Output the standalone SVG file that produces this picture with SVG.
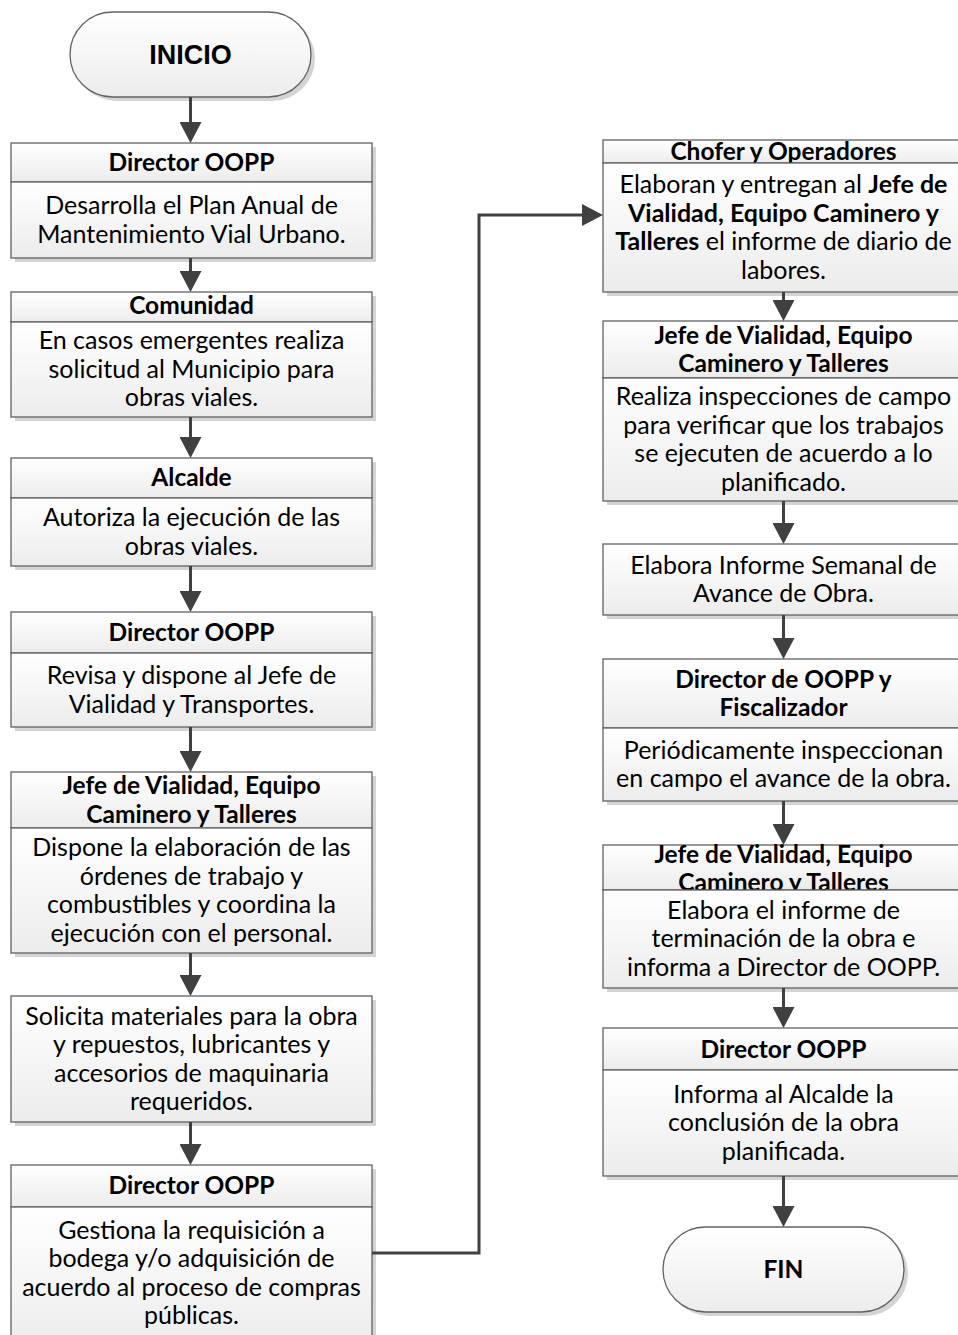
<svg xmlns="http://www.w3.org/2000/svg" width="958" height="1335" viewBox="0 0 958 1335">
  <style>
    .shadow { fill: #d4d4d4; }
    .box { fill: url(#boxfill); stroke: #626262; stroke-width: 1.3; }
    .term { fill: url(#boxfill); stroke: #626262; stroke-width: 1.3; }
    text { font-family: Lato, "Open Sans", "DejaVu Sans", sans-serif; font-size: 25px; fill: #000; text-anchor: middle; }
    .hdr { font-weight: bold; font-size: 24.5px; }
    .b { font-weight: bold; }
    .start { font-family: "Liberation Sans", Arial, sans-serif; font-weight: bold; font-size: 27px; }
    .conn { fill: none; stroke: #404040; stroke-width: 3; marker-end: url(#ah); }
  </style>
  <defs>
    <linearGradient id="boxfill" x1="0" y1="0" x2="0" y2="1">
      <stop offset="0" stop-color="#ffffff"/>
      <stop offset="1" stop-color="#ececec"/>
    </linearGradient>
    <marker id="ah" markerUnits="userSpaceOnUse" markerWidth="22" markerHeight="22" viewBox="0 -11 21 22" refX="0" refY="0" orient="auto">
      <path d="M0,-11 L21,0 L0,11 z" fill="#404040"/>
    </marker>
  </defs>

  <!-- start terminator -->
  <g id="inicio">
    <rect class="shadow" x="74" y="16" width="241" height="85" rx="42.5"/>
    <rect class="term" x="70" y="12" width="241" height="85" rx="42.5"/>
    <text class="start" x="190.5" y="64">INICIO</text>
  </g>

  <!-- left column -->
  <g id="n1">
    <rect class="shadow" x="15" y="147" width="361" height="115"/>
    <rect class="box" x="11" y="143" width="361" height="39"/>
    <text class="hdr" x="191.5" y="170.5">Director OOPP</text>
    <rect class="box" x="11" y="182" width="361" height="76"/>
    <text x="191.5" y="214">Desarrolla el Plan Anual de</text>
    <text x="191.5" y="242.5">Mantenimiento Vial Urbano.</text>
  </g>

  <g id="n2">
    <rect class="shadow" x="15" y="296" width="361" height="125"/>
    <rect class="box" x="11" y="292" width="361" height="30"/>
    <text class="hdr" x="191.5" y="314">Comunidad</text>
    <rect class="box" x="11" y="322" width="361" height="95"/>
    <text x="191.5" y="349">En casos emergentes realiza</text>
    <text x="191.5" y="377.5">solicitud al Municipio para</text>
    <text x="191.5" y="406">obras viales.</text>
  </g>

  <g id="n3">
    <rect class="shadow" x="15" y="462" width="361" height="108"/>
    <rect class="box" x="11" y="458" width="361" height="40"/>
    <text class="hdr" x="191.5" y="486">Alcalde</text>
    <rect class="box" x="11" y="498" width="361" height="68"/>
    <text x="191.5" y="526">Autoriza la ejecución de las</text>
    <text x="191.5" y="554.5">obras viales.</text>
  </g>

  <g id="n4">
    <rect class="shadow" x="15" y="616" width="361" height="115"/>
    <rect class="box" x="11" y="612" width="361" height="41"/>
    <text class="hdr" x="191.5" y="640.5">Director OOPP</text>
    <rect class="box" x="11" y="653" width="361" height="74"/>
    <text x="191.5" y="684">Revisa y dispone al Jefe de</text>
    <text x="191.5" y="712.5">Vialidad y Transportes.</text>
  </g>

  <g id="n5">
    <rect class="shadow" x="15" y="776" width="361" height="181"/>
    <rect class="box" x="11" y="772" width="361" height="56"/>
    <text class="hdr" x="191.5" y="794">Jefe de Vialidad, Equipo</text>
    <text class="hdr" x="191.5" y="822.5">Caminero y Talleres</text>
    <rect class="box" x="11" y="828" width="361" height="125"/>
    <text x="191.5" y="856">Dispone la elaboración de las</text>
    <text x="191.5" y="884.5">órdenes de trabajo y</text>
    <text x="191.5" y="913">combustibles y coordina la</text>
    <text x="191.5" y="941.5">ejecución con el personal.</text>
  </g>

  <g id="n6">
    <rect class="shadow" x="15" y="1000" width="361" height="126"/>
    <rect class="box" x="11" y="996" width="361" height="126"/>
    <text x="191.5" y="1024.5">Solicita materiales para la obra</text>
    <text x="191.5" y="1053">y repuestos, lubricantes y</text>
    <text x="191.5" y="1081.5">accesorios de maquinaria</text>
    <text x="191.5" y="1110">requeridos.</text>
  </g>

  <g id="n7">
    <rect class="shadow" x="15" y="1169" width="361" height="180"/>
    <rect class="box" x="11" y="1165" width="361" height="42"/>
    <text class="hdr" x="191.5" y="1194">Director OOPP</text>
    <rect class="box" x="11" y="1207" width="361" height="140"/>
    <text x="191.5" y="1238.5">Gestiona la requisición a</text>
    <text x="191.5" y="1267">bodega y/o adquisición de</text>
    <text x="191.5" y="1295.5">acuerdo al proceso de compras</text>
    <text x="191.5" y="1324">públicas.</text>
  </g>

  <!-- right column -->
  <g id="r1">
    <rect class="shadow" x="607" y="144" width="361" height="152"/>
    <rect class="box" x="603" y="140" width="361" height="23"/>
    <text class="hdr" x="783.5" y="159.5">Chofer y Operadores</text>
    <rect class="box" x="603" y="163" width="361" height="129"/>
    <text x="783.5" y="193">Elaboran y entregan al <tspan class="b">Jefe de</tspan></text>
    <text x="783.5" y="221.5" class="b">Vialidad, Equipo Caminero y</text>
    <text x="783.5" y="250"><tspan class="b">Talleres</tspan> el informe de diario de</text>
    <text x="783.5" y="278.5">labores.</text>
  </g>

  <g id="r2">
    <rect class="shadow" x="607" y="325" width="361" height="180"/>
    <rect class="box" x="603" y="321" width="361" height="57"/>
    <text class="hdr" x="783.5" y="343.5">Jefe de Vialidad, Equipo</text>
    <text class="hdr" x="783.5" y="372">Caminero y Talleres</text>
    <rect class="box" x="603" y="378" width="361" height="123"/>
    <text x="783.5" y="405">Realiza inspecciones de campo</text>
    <text x="783.5" y="433.5">para verificar que los trabajos</text>
    <text x="783.5" y="462">se ejecuten de acuerdo a lo</text>
    <text x="783.5" y="490.5">planificado.</text>
  </g>

  <g id="r3">
    <rect class="shadow" x="607" y="548" width="361" height="71"/>
    <rect class="box" x="603" y="544" width="361" height="71"/>
    <text x="783.5" y="573.5">Elabora Informe Semanal de</text>
    <text x="783.5" y="602">Avance de Obra.</text>
  </g>

  <g id="r4">
    <rect class="shadow" x="607" y="663" width="361" height="142"/>
    <rect class="box" x="603" y="659" width="361" height="69"/>
    <text class="hdr" x="783.5" y="687.5">Director de OOPP y</text>
    <text class="hdr" x="783.5" y="716">Fiscalizador</text>
    <rect class="box" x="603" y="728" width="361" height="73"/>
    <text x="783.5" y="758.5">Periódicamente inspeccionan</text>
    <text x="783.5" y="787">en campo el avance de la obra.</text>
  </g>

  <g id="r5">
    <rect class="shadow" x="607" y="849" width="361" height="143"/>
    <rect class="box" x="603" y="845" width="361" height="45"/>
    <text class="hdr" x="783.5" y="862.5">Jefe de Vialidad, Equipo</text>
    <text class="hdr" x="783.5" y="891">Caminero y Talleres</text>
    <rect class="box" x="603" y="890" width="361" height="98"/>
    <text x="783.5" y="918.5">Elabora el informe de</text>
    <text x="783.5" y="947">terminación de la obra e</text>
    <text x="783.5" y="975.5">informa a Director de OOPP.</text>
  </g>

  <g id="r6">
    <rect class="shadow" x="607" y="1032" width="361" height="148"/>
    <rect class="box" x="603" y="1028" width="361" height="42"/>
    <text class="hdr" x="783.5" y="1058">Director OOPP</text>
    <rect class="box" x="603" y="1070" width="361" height="106"/>
    <text x="783.5" y="1102.5">Informa al Alcalde la</text>
    <text x="783.5" y="1131">conclusión de la obra</text>
    <text x="783.5" y="1159.5">planificada.</text>
  </g>

  <!-- end terminator -->
  <g id="fin">
    <rect class="shadow" x="667" y="1231" width="241" height="85" rx="42.5"/>
    <rect class="term" x="663" y="1227" width="241" height="85" rx="42.5"/>
    <text class="hdr" x="783.5" y="1278">FIN</text>
  </g>

  <!-- connectors -->
  <g id="connectors">
    <path class="conn" d="M190.5,97 V122"/>
    <path class="conn" d="M190.5,258 V271"/>
    <path class="conn" d="M190.5,417 V437"/>
    <path class="conn" d="M190.5,566 V591"/>
    <path class="conn" d="M190.5,727 V751"/>
    <path class="conn" d="M190.5,953 V975"/>
    <path class="conn" d="M190.5,1122 V1144"/>
    <path class="conn" d="M372,1253 H479 V215 H582"/>
    <path class="conn" d="M783.5,292 V300"/>
    <path class="conn" d="M783.5,501 V523"/>
    <path class="conn" d="M783.5,615 V638"/>
    <path class="conn" d="M783.5,801 V824"/>
    <path class="conn" d="M783.5,988 V1007"/>
    <path class="conn" d="M783.5,1176 V1206"/>
  </g>
</svg>
